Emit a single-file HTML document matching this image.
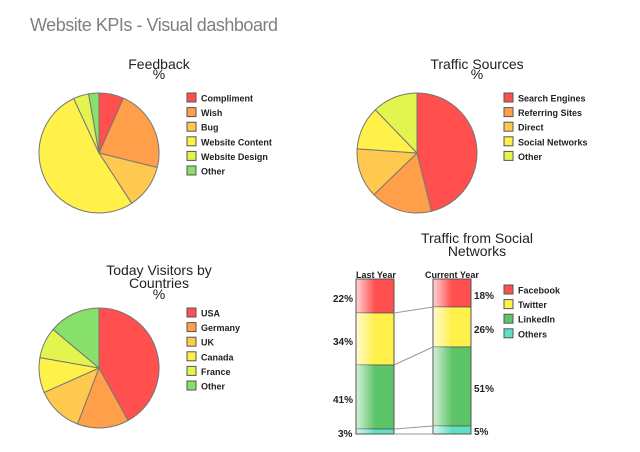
<!DOCTYPE html>
<html><head><meta charset="utf-8"><style>
body{margin:0;background:#fff;}
svg{display:block;font-family:"Liberation Sans","DejaVu Sans",sans-serif;}
.t{font-size:14px;fill:#222;text-anchor:middle}
.l{font-size:9px;fill:#222;font-weight:bold}
</style></head><body>
<svg id="s" width="640" height="452" viewBox="0 0 640 452" xmlns="http://www.w3.org/2000/svg">
<defs>
<linearGradient id="gr" x1="0" x2="1"><stop offset="0" stop-color="#fff" stop-opacity="0.75"/><stop offset="0.5" stop-color="#fff" stop-opacity="0"/></linearGradient>
</defs>
<text x="30" y="31" font-size="18" fill="#808080" textLength="248">Website KPIs - Visual dashboard</text>
<text class="t" x="159" y="69">Feedback</text><text class="t" x="159" y="79" font-size="11">%</text>
<text class="t" x="477" y="69">Traffic Sources</text><text class="t" x="477" y="79" font-size="11">%</text>
<text class="t" x="159" y="275">Today Visitors by</text><text class="t" x="159" y="288">Countries</text><text class="t" x="159" y="299" font-size="11">%</text>
<text class="t" x="477" y="243">Traffic from Social</text><text class="t" x="477" y="256">Networks</text>
<g id="g"></g>
<text class="l" x="356" y="278">Last Year</text><text class="l" x="425" y="278">Current Year</text>
<g class="l" style="font-weight:600;font-size:10px">
<text x="333" y="302">22%</text><text x="333" y="345">34%</text><text x="333" y="403">41%</text><text x="338" y="437">3%</text>
<text x="474" y="299">18%</text><text x="474" y="333">26%</text><text x="474" y="392">51%</text><text x="474" y="435">5%</text>
</g>
</svg>
<script>
var g=document.getElementById('g'),NS='http://www.w3.org/2000/svg';
function el(t,a){var e=document.createElementNS(NS,t);for(var k in a)e.setAttribute(k,a[k]);g.appendChild(e);return e;}
function pie(cx,cy,r,b,c){var p=0;for(var i=0;i<b.length;i++){var a0=p*Math.PI/180,a1=b[i]*Math.PI/180;
var x0=cx+r*Math.sin(a0),y0=cy-r*Math.cos(a0),x1=cx+r*Math.sin(a1),y1=cy-r*Math.cos(a1);
el('path',{d:'M'+cx+','+cy+'L'+x0+','+y0+'A'+r+','+r+' 0 '+((b[i]-p)>180?1:0)+' 1 '+x1+','+y1+'Z',fill:c[i],stroke:'#777','stroke-width':1});p=b[i];}}
function leg(x,y,n,c){for(var i=0;i<n.length;i++){var yy=y+i*14.6;el('rect',{x:x,y:yy,width:9,height:9,fill:c[i],stroke:'#555'});var t=el('text',{x:x+14,y:yy+8.5,'class':'l'});t.textContent=n[i];}}
var R='#ff4f4f',O='#ff9f4a',Y1='#ffc84f',Y='#fff04a',LG='#e2f54f',G='#87e06a';
pie(99,153,60,[24,104,147,335,350,360],[R,O,Y1,Y,LG,G]);
leg(187,93,['Compliment','Wish','Bug','Website Content','Website Design','Other'],[R,O,Y1,Y,LG,G]);
pie(417,153,60,[166,226,274,316,360],[R,O,Y1,Y,LG]);
leg(504,93,['Search Engines','Referring Sites','Direct','Social Networks','Other'],[R,O,Y1,Y,LG]);
pie(99,368,60,[151,201,246,280,310,360],[R,O,Y1,Y,LG,G]);
leg(187,308,['USA','Germany','UK','Canada','France','Other'],[R,O,Y1,Y,LG,G]);
var sc=[R,Y,'#5ec46a','#5fe0c4'];
function bar(x,b){for(var i=0;i<4;i++){el('rect',{x:x,y:b[i],width:38,height:b[i+1]-b[i],fill:sc[i],stroke:'#555','stroke-width':0.8});el('rect',{x:x,y:b[i],width:38,height:b[i+1]-b[i],fill:'url(#gr)'});}
el('rect',{x:x,y:b[0],width:38,height:b[4]-b[0],fill:'none',stroke:'#555','stroke-width':1});}
var A=[279,313,365,429,434],B=[279,307,347,426,434];
bar(356,A);bar(433,B);
for(var i=1;i<5;i++)el('line',{x1:394,y1:A[i],x2:433,y2:B[i],stroke:'#999','stroke-width':1});
leg(504,285,['Facebook','Twitter','LinkedIn','Others'],sc);
</script>
</body></html>
